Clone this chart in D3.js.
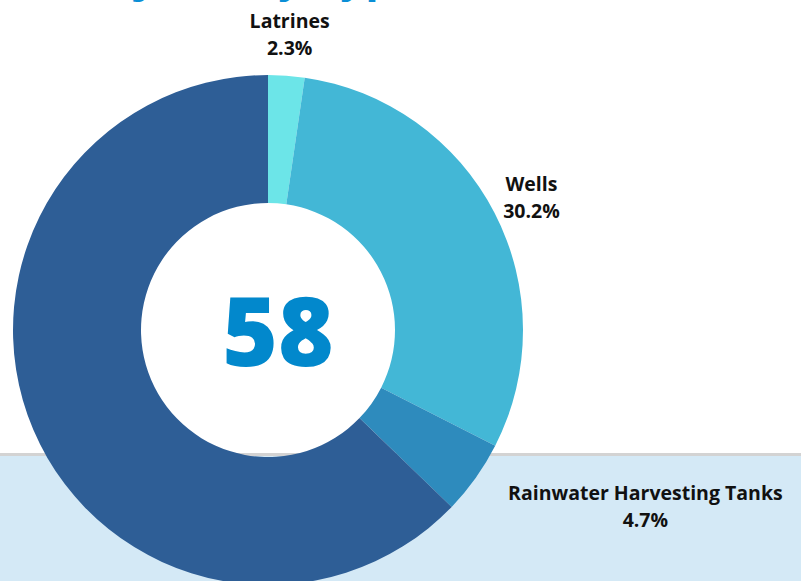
<!DOCTYPE html>
<html>
<head>
<meta charset="utf-8">
<script src="https://cdn.jsdelivr.net/npm/d3@7"></script>
<style>
  body { margin: 0; background: #fff; }
  svg { display: block; }
  text { font-family: "Open Sans", Lato, sans-serif; }
</style>
</head>
<body>
<div id="chart"></div>
<script>
// values (percent of projects)
var categories = ['Latrines', 'Wells', 'Rainwater Harvesting Tanks', 'Other'];
var shares = [2.3, 30.2, 4.7, 62.8];
var showLabel = [true, true, true, false];
var total = 58;

var colors = ['#6ce5e8', '#43b7d6', '#2e8bbd', '#2e5e96'];

var width = 801, height = 581;
var cx = 268, cy = 330;
var outerR = 255, innerR = 127;

var svg = d3.select('#chart').append('svg')
    .attr('width', width)
    .attr('height', height);

// cut-off heading at the very top
svg.append('text')
    .attr('x', 400)
    .attr('y', -9)
    .attr('text-anchor', 'middle')
    .attr('fill', '#0a8fd6')
    .style('font-size', '44px')
    .style('font-weight', 700)
    .text('Projects by Type of Investment');

// light band at the bottom
svg.append('rect')
    .attr('x', 0).attr('y', 456)
    .attr('width', width).attr('height', height - 456)
    .attr('fill', '#d4e9f6');
svg.append('rect')
    .attr('x', 0).attr('y', 453)
    .attr('width', width).attr('height', 3)
    .attr('fill', '#d3d3d3');

var data = categories.map((c, i) => ({name: c, value: shares[i], label: showLabel[i]}));

var pie = d3.pie().sort(null).value(d => d.value);
var arc = d3.arc().innerRadius(innerR).outerRadius(outerR);

var g = svg.append('g').attr('transform', `translate(${cx}, ${cy})`);

var arcs = pie(data);

g.selectAll('.slice')
    .data(arcs)
    .enter()
    .append('path')
    .attr('class', 'slice')
    .attr('d', arc)
    .attr('fill', (d, i) => colors[i]);

// label anchors: radial distance / extra shift per slice
var labelPlace = {
  'Latrines': {r: 300, dx: 0, dy: 4},
  'Wells': {r: 300, dx: -3, dy: 6},
  'Rainwater Harvesting Tanks': {r: 300, dx: 133, dy: 3}
};

arcs.filter(d => d.data.label).forEach(function(d) {
  var p = labelPlace[d.data.name];
  var a = (d.startAngle + d.endAngle) / 2;
  var x = Math.sin(a) * p.r + p.dx;
  var y = -Math.cos(a) * p.r + p.dy;
  var t = g.append('text')
      .attr('text-anchor', 'middle')
      .attr('fill', '#111')
      .style('font-size', '19.5px')
      .style('font-weight', 700);
  t.append('tspan').attr('x', x).attr('y', y - 7).text(d.data.name);
  t.append('tspan').attr('x', x).attr('y', y + 20).text(d.data.value.toFixed(1) + '%');
});

g.append('text')
    .attr('x', 10)
    .attr('y', 36)
    .attr('text-anchor', 'middle')
    .attr('fill', '#0288cc')
    .style('font-size', '95px')
    .style('font-weight', 800)
    .text(total);
</script>
</body>
</html>
